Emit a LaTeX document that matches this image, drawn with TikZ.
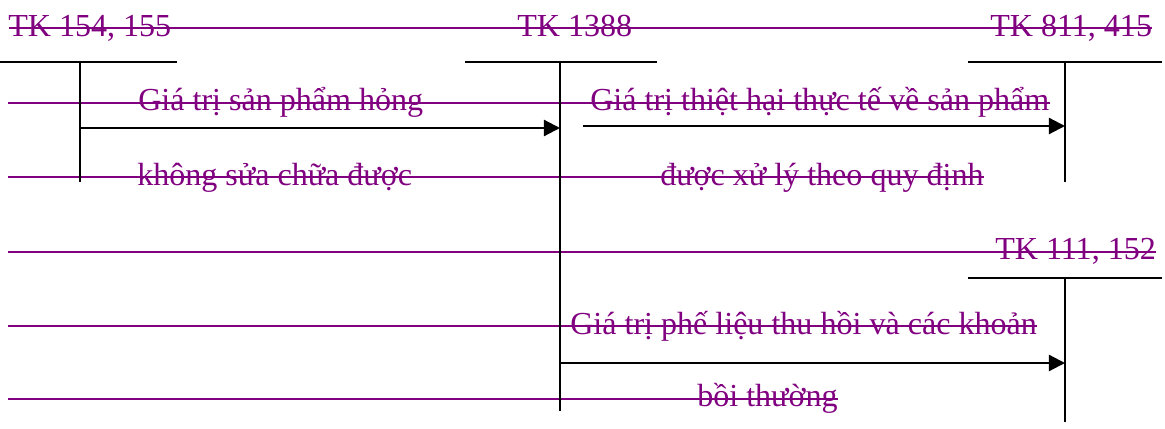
\documentclass[tikz,border=0pt]{standalone}
\usepackage{fontspec}
\setmainfont{Liberation Serif}
\usetikzlibrary{arrows.meta,positioning,calc}
\definecolor{revpurple}{RGB}{128,0,128}
\tikzset{% 
  deleted text/.style={%
    text=revpurple,
    inner sep=0pt,
    anchor=base west,
    font=\fontsize{22.8}{27}\selectfont
  }
}
\tikzset{% 
  deleted line/.style={%
    draw=revpurple,
    line width=1.6pt
  }
}
\tikzset{% 
  account/.style={%
    line width=1.6pt
  }
}
\tikzset{% 
  entry/.style={%
    line width=1.6pt,
    -{Triangle[length=11.5pt,width=11.5pt]}
  }
}

\begin{document}
\begin{tikzpicture}[x=0.025cm,y=-0.025cm]
  \useasboundingbox (0,0) rectangle (1165,428);
  % account names and entry texts
  \node [deleted text] (tk154) at (8,36) {TK 154, 155};
  \node [deleted text] (tk1388) at (517,36) {TK 1388};
  \node [deleted text] (tk811) at (990,36) {TK 811, 415};
  \node [deleted text] (loss1) at (138,110) {Giá trị sản phẩm hỏng};
  \node [deleted text] (loss2) at (137,185) {không sửa chữa được};
  \node [deleted text] (dmg1) at (590,110) {Giá trị thiệt hại thực tế về sản phẩm};
  \node [deleted text] (dmg2) at (660,185) {được xử lý theo quy định};
  \node [deleted text] (tk111) at (995,259) {TK 111, 152};
  \node [deleted text] (scrap1) at (570,334) {Giá trị phế liệu thu hồi và các khoản};
  \node [deleted text] (scrap2) at (697,406) {bồi thường};
  % struck-through rows
  \coordinate (s1) at (9,28);
  \coordinate (s2) at (8,103);
  \coordinate (s3) at (8,177);
  \coordinate (s4) at (8,252);
  \coordinate (s5) at (8,326);
  \coordinate (s6) at (8,399);
  \draw [deleted line] (s1) -- (s1 -| tk811.east);
  \draw [deleted line] (s2) -- (s2 -| dmg1.east);
  \draw [deleted line] (s3) -- (s3 -| dmg2.east);
  \draw [deleted line] (s4) -- (s4 -| tk111.east);
  \draw [deleted line] (s5) -- (s5 -| scrap1.east);
  \draw [deleted line] (s6) -- (s6 -| scrap2.east);
  % T accounts
  \coordinate (t154) at (80,62);
  \coordinate (t1388) at (560,62);
  \coordinate (t811) at (1065,62);
  \coordinate (t111) at (1065,278);
  \draw [account] (0,62) -- (177,62) (t154) -- (80,182);
  \draw [account] (465,62) -- (657,62) (t1388) -- (560,411);
  \draw [account] (968,62) -- (1162,62) (t811) -- (1065,182);
  \draw [account] (968,278) -- (1162,278) (t111) -- (1065,422);
  % entries
  \coordinate (e1) at (80,128);
  \coordinate (e2) at (583,126);
  \coordinate (e3) at (560,363);
  \draw [entry] (e1) -- (e1 -| t1388);
  \draw [entry] (e2) -- (e2 -| t811);
  \draw [entry] (e3) -- (e3 -| t111);
\end{tikzpicture}
\end{document}
